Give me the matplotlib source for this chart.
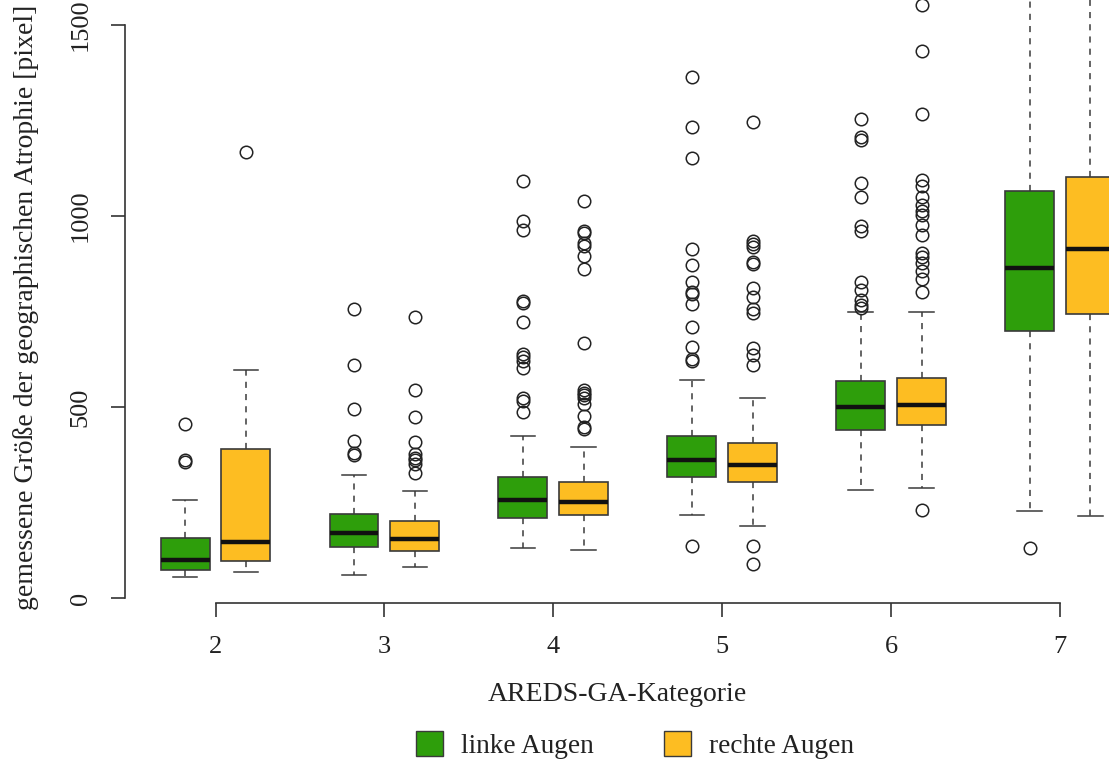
import matplotlib
matplotlib.use("Agg")
import matplotlib.pyplot as plt
from matplotlib.patches import Patch

plt.rcParams['font.family'] = ['Liberation Serif', 'DejaVu Serif']

categories = [2, 3, 4, 5, 6, 7]

# linke Augen (green)
left_q1 = [73, 134, 209, 318, 440, 700]
left_med = [100, 170, 257, 360, 500, 864]
left_q3 = [158, 219, 317, 424, 567, 1066]
left_lo = [55, 60, 130, 216, 283, 229]
left_hi = [257, 321, 424, 571, 750, 2300]
left_fliers = [
    [455, 362, 355],
    [757, 611, 494, 411, 379, 374],
    [1091, 987, 963, 778, 773, 723, 640, 632, 620, 603, 523, 516, 488],
    [1364, 1233, 1152, 913, 873, 827, 802, 796, 769, 710, 656, 625, 620, 137],
    [1255, 1208, 1198, 1086, 1050, 974, 962, 826, 805, 779, 768, 760],
    [131],
]

# rechte Augen (orange)
right_q1 = [98, 122, 217, 303, 454, 743]
right_med = [147, 154, 252, 347, 506, 914]
right_q3 = [391, 202, 304, 407, 575, 1102]
right_lo = [68, 82, 126, 189, 288, 214]
right_hi = [596, 279, 396, 524, 750, 2600]
right_fliers = [
    [1168],
    [736, 545, 475, 408, 377, 367, 360, 351, 328],
    [1039, 961, 956, 929, 922, 895, 860, 668, 545, 537, 531, 523, 508, 477, 448, 442],
    [1246, 935, 926, 918, 880, 874, 811, 787, 756, 745, 655, 636, 610, 137, 89],
    [1553, 1433, 1268, 1095, 1079, 1051, 1028, 1012, 1002, 976, 950, 903, 893, 878,
     857, 836, 802, 231],
    [],
]

green = '#2E9E0B'
orange = '#FDBD22'
edge = '#3a3a3a'


def make_stats(q1, med, q3, lo, hi, fl):
    return [dict(q1=a, med=b, q3=c, whislo=d, whishi=e, fliers=f)
            for a, b, c, d, e, f in zip(q1, med, q3, lo, hi, fl)]


fig = plt.figure(figsize=(11.09, 7.67), dpi=100)
ax = fig.add_axes([125 / 1109, 1 - 603 / 767, 1 - 125 / 1109, 603 / 767])

offset = 0.18
bw = 0.29
for stats, col, sh in [
    (make_stats(left_q1, left_med, left_q3, left_lo, left_hi, left_fliers), green, -offset),
    (make_stats(right_q1, right_med, right_q3, right_lo, right_hi, right_fliers), orange, offset),
]:
    ax.bxp(stats, positions=[c + sh for c in categories], widths=bw,
           capwidths=bw / 2, patch_artist=True, manage_ticks=False,
           boxprops=dict(facecolor=col, edgecolor=edge, linewidth=1.2),
           medianprops=dict(color='#111111', linewidth=3.2, solid_capstyle='butt'),
           whiskerprops=dict(color=edge, linewidth=1.1, linestyle=(0, (4, 4))),
           capprops=dict(color=edge, linewidth=1.1),
           flierprops=dict(marker='o', markersize=9, markerfacecolor='none',
                           markeredgecolor='#222222', markeredgewidth=1.1))

ax.set_xlim(2 - 90.5 / 168.9, 2 + (1109 - 215.5) / 168.9)
ax.set_ylim(-5 / 0.382, 598 / 0.382)

for s in ['top', 'right']:
    ax.spines[s].set_visible(False)
for s in ['left', 'bottom']:
    ax.spines[s].set_color('#333333')
    ax.spines[s].set_linewidth(1.2)
ax.spines['left'].set_bounds(0, 1500)
ax.spines['bottom'].set_bounds(2, 7)

ax.set_xticks(categories)
ax.set_xticklabels([str(c) for c in categories])
ax.set_yticks([0, 500, 1000, 1500])
ax.set_yticklabels(['0', '500', '1000', '1500'], rotation=90, va='center')
ax.tick_params(axis='both', length=10, width=1.2, color='#333333',
               labelsize=19, labelcolor='#222222', pad=14)

ax.set_xlabel('AREDS-GA-Kategorie', fontsize=20, color='#222222', labelpad=17)
fig.text(26 / 1109, 1 - 307 / 767, 'gemessene Größe der geographischen Atrophie [pixel]',
         rotation=90, ha='center', va='center', fontsize=20, color='#222222')

handles = [Patch(facecolor=green, edgecolor=edge, linewidth=1.0, label='linke Augen'),
           Patch(facecolor=orange, edgecolor=edge, linewidth=1.0, label='rechte Augen')]
fig.legend(handles=handles, loc='center', ncol=2, frameon=False,
           bbox_to_anchor=(635 / 1109, 1 - 745 / 767), fontsize=19.6,
           handlelength=1.0, handleheight=1.0, handletextpad=0.66,
           columnspacing=2.6, labelcolor='#222222')

fig.savefig('out.png', dpi=100)
